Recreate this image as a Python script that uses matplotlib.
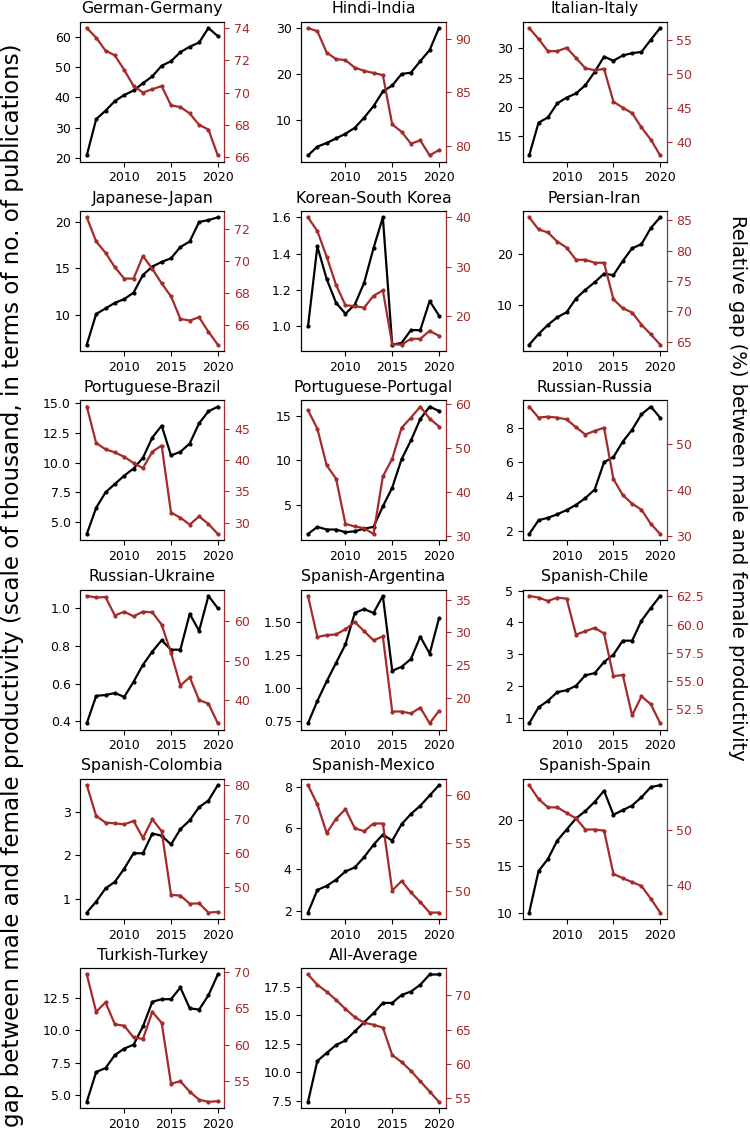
import matplotlib
matplotlib.use("Agg")
import matplotlib.pyplot as plt

plt.rcParams["xtick.labelsize"] = 9
plt.rcParams["ytick.labelsize"] = 9

years = list(range(2006, 2021))

titles = ["German-Germany", "Hindi-India", "Italian-Italy",
          "Japanese-Japan", "Korean-South Korea", "Persian-Iran",
          "Portuguese-Brazil", "Portuguese-Portugal", "Russian-Russia",
          "Russian-Ukraine", "Spanish-Argentina", "Spanish-Chile",
          "Spanish-Colombia", "Spanish-Mexico", "Spanish-Spain",
          "Turkish-Turkey", "All-Average"]

# absolute gap (thousands of publications)
gap_germany = [20.8, 32.8, 35.6, 38.8, 40.8, 42.3, 44.7, 47.0, 50.5, 52.0, 55.0, 56.8, 58.2, 63.0, 60.3]
gap_india = [2.3, 4.2, 5.0, 6.0, 7.0, 8.3, 10.5, 13.0, 16.2, 17.5, 20.0, 20.3, 22.8, 25.2, 30.0]
gap_italy = [11.7, 17.3, 18.2, 20.6, 21.6, 22.3, 23.7, 26.0, 28.6, 27.9, 28.8, 29.2, 29.4, 31.5, 33.5]
gap_japan = [6.8, 10.1, 10.7, 11.3, 11.7, 12.4, 14.3, 15.2, 15.7, 16.1, 17.3, 17.9, 20.0, 20.2, 20.5]
gap_korea = [1.00, 1.44, 1.26, 1.13, 1.07, 1.12, 1.24, 1.43, 1.60, 0.90, 0.91, 0.98, 0.98, 1.14, 1.06]
gap_iran = [2.2, 4.3, 6.1, 7.6, 8.6, 11.3, 13.0, 14.5, 16.2, 15.9, 18.7, 21.2, 22.0, 25.2, 27.3]
gap_brazil = [4.0, 6.2, 7.5, 8.2, 8.9, 9.5, 10.4, 12.1, 13.1, 10.6, 10.9, 11.6, 13.3, 14.3, 14.7]
gap_portugal = [1.7, 2.5, 2.2, 2.2, 1.9, 2.0, 2.3, 2.5, 4.8, 6.9, 10.1, 12.2, 14.6, 16.0, 15.5]
gap_russia = [1.8, 2.6, 2.75, 2.95, 3.2, 3.5, 3.9, 4.4, 6.0, 6.3, 7.2, 7.9, 8.8, 9.25, 8.6]
gap_ukraine = [0.39, 0.535, 0.54, 0.55, 0.53, 0.61, 0.70, 0.77, 0.83, 0.78, 0.78, 0.97, 0.88, 1.065, 1.0]
gap_argentina = [0.73, 0.90, 1.05, 1.19, 1.33, 1.57, 1.60, 1.57, 1.70, 1.13, 1.16, 1.22, 1.39, 1.26, 1.53]
gap_chile = [0.82, 1.32, 1.53, 1.80, 1.86, 2.0, 2.33, 2.40, 2.75, 2.98, 3.42, 3.42, 4.05, 4.45, 4.83]
gap_colombia = [0.7, 0.95, 1.25, 1.4, 1.7, 2.05, 2.05, 2.5, 2.45, 2.25, 2.6, 2.8, 3.1, 3.25, 3.6]
gap_mexico = [1.9, 3.0, 3.2, 3.5, 3.9, 4.1, 4.6, 5.2, 5.7, 5.4, 6.2, 6.7, 7.1, 7.6, 8.1]
gap_spain = [10.0, 14.5, 15.8, 17.8, 19.0, 20.2, 21.0, 22.0, 23.2, 20.6, 21.1, 21.6, 22.5, 23.6, 23.8]
gap_turkey = [4.5, 6.8, 7.1, 8.1, 8.6, 8.9, 10.3, 12.2, 12.4, 12.4, 13.3, 11.7, 11.6, 12.7, 14.3]
gap_average = [7.4, 11.0, 11.7, 12.4, 12.8, 13.6, 14.4, 15.2, 16.1, 16.1, 16.8, 17.1, 17.7, 18.6, 18.6]

# relative gap (%)
rel_germany = [74.0, 73.4, 72.6, 72.3, 71.4, 70.4, 70.0, 70.2, 70.4, 69.2, 69.1, 68.7, 68.0, 67.7, 66.1]
rel_india = [91.0, 90.7, 88.7, 88.1, 88.0, 87.3, 87.0, 86.8, 86.6, 82.0, 81.3, 80.2, 80.5, 79.1, 79.6]
rel_italy = [56.8, 55.2, 53.4, 53.4, 53.9, 52.4, 50.9, 50.6, 50.8, 46.0, 45.1, 44.3, 42.2, 40.4, 38.1]
rel_japan = [72.7, 71.2, 70.5, 69.6, 68.9, 68.9, 70.3, 69.5, 68.6, 67.8, 66.4, 66.3, 66.5, 65.6, 64.8]
rel_korea = [40.0, 37.2, 32.0, 26.3, 22.2, 22.0, 21.7, 24.1, 25.2, 14.3, 14.2, 15.4, 15.4, 17.0, 16.0]
rel_iran = [85.5, 83.5, 83.0, 81.5, 80.5, 78.5, 78.5, 78.0, 78.0, 72.0, 70.5, 69.8, 67.8, 66.2, 64.5]
rel_brazil = [48.5, 42.7, 41.7, 41.2, 40.5, 39.5, 38.7, 41.3, 42.3, 31.6, 30.8, 29.7, 31.0, 29.8, 28.2]
rel_portugal = [58.5, 54.3, 46.0, 43.0, 32.8, 32.2, 31.8, 30.5, 43.5, 47.5, 54.5, 56.8, 59.3, 56.6, 54.8]
rel_russia = [58.2, 55.8, 56.0, 55.8, 55.4, 53.7, 52.1, 52.9, 53.6, 42.4, 38.9, 37.0, 35.7, 32.6, 30.4]
rel_ukraine = [66.5, 66.1, 66.2, 61.5, 62.5, 61.3, 62.5, 62.3, 59.2, 52.0, 43.7, 45.8, 40.0, 39.1, 34.1]
rel_argentina = [35.6, 29.3, 29.6, 29.7, 30.5, 31.6, 30.2, 28.8, 29.4, 17.9, 17.9, 17.6, 18.5, 16.1, 18.0]
rel_chile = [62.55, 62.4, 62.1, 62.4, 62.3, 59.1, 59.4, 59.7, 59.2, 55.4, 55.5, 51.9, 53.6, 52.9, 51.2]
rel_colombia = [80.0, 71.0, 69.0, 68.8, 68.5, 69.5, 64.5, 70.0, 66.5, 47.8, 47.6, 45.2, 45.3, 42.6, 42.8]
rel_mexico = [61.0, 59.0, 56.0, 57.5, 58.5, 56.5, 56.2, 57.0, 57.0, 50.0, 51.0, 49.8, 48.8, 47.7, 47.7]
rel_spain = [58.0, 55.5, 54.0, 54.0, 53.0, 52.0, 50.0, 50.0, 49.8, 42.0, 41.2, 40.5, 39.8, 37.5, 35.0]
rel_turkey = [69.6, 64.5, 65.8, 62.8, 62.6, 61.0, 60.8, 64.5, 63.0, 54.7, 55.0, 53.6, 52.5, 52.2, 52.3]
rel_average = [73.0, 71.5, 70.5, 69.3, 68.0, 66.8, 66.0, 65.7, 65.3, 61.3, 60.3, 59.0, 57.5, 56.0, 54.5]

gaps = [gap_germany, gap_india, gap_italy, gap_japan, gap_korea, gap_iran,
        gap_brazil, gap_portugal, gap_russia, gap_ukraine, gap_argentina, gap_chile,
        gap_colombia, gap_mexico, gap_spain, gap_turkey, gap_average]
rels = [rel_germany, rel_india, rel_italy, rel_japan, rel_korea, rel_iran,
        rel_brazil, rel_portugal, rel_russia, rel_ukraine, rel_argentina, rel_chile,
        rel_colombia, rel_mexico, rel_spain, rel_turkey, rel_average]

red = "#a52a2a"

fig, axes = plt.subplots(6, 3, figsize=(7.5, 11.39), dpi=100)
fig.subplots_adjust(left=0.107, right=0.889, top=0.981, bottom=0.027,
                    wspace=0.535, hspace=0.351)

for ax, title, gap, rel in zip(axes.flat, titles, gaps, rels):
    ax.plot(years, gap, color="black", marker=".", ms=4, lw=1.6)
    ax.set_title(title, fontsize=11.3)
    ax.set_xticks([2010, 2015, 2020])
    ax2 = ax.twinx()
    ax2.plot(years, rel, color=red, marker=".", ms=4, lw=1.6)
    ax2.tick_params(axis="y", colors=red)
    ax2.spines["right"].set_color(red)

axes[5, 2].remove()

fig.text(0.017, 0.486, "gap between male and female productivity (scale of thousand, in terms of no. of publications)",
         rotation=90, ha="center", va="center", fontsize=16.6)
fig.text(0.983, 0.572, "Relative gap (%) between male and female productivity",
         rotation=270, ha="center", va="center", fontsize=14)

plt.savefig("out.png", dpi=100)
